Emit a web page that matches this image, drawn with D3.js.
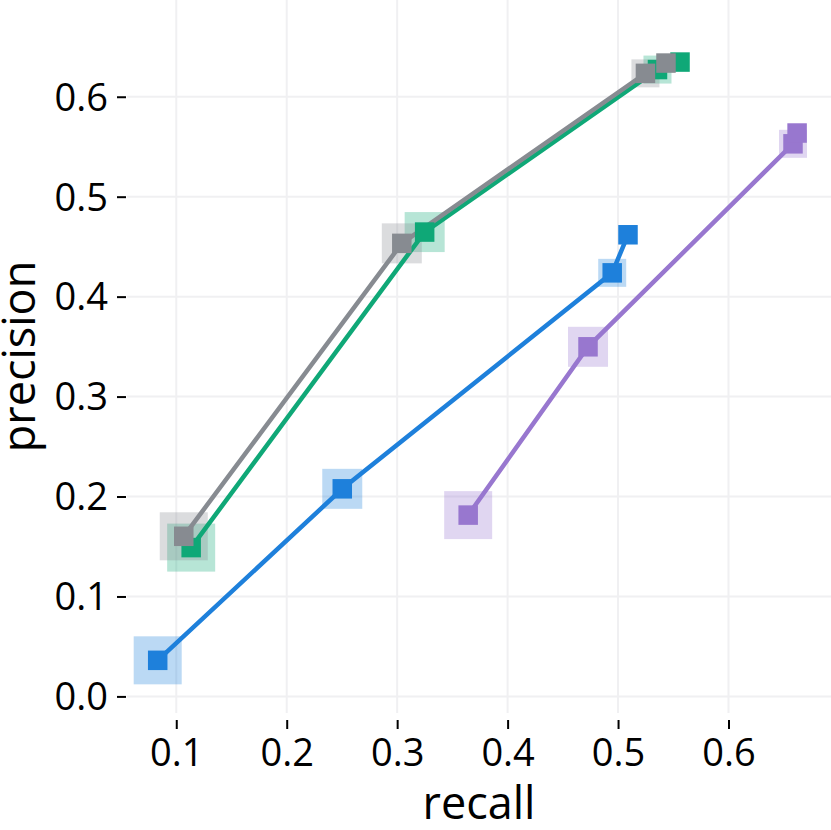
<!DOCTYPE html>
<html>
<head>
<meta charset="utf-8">
<script src="https://cdn.jsdelivr.net/npm/d3@7"></script>
<style>
  html, body { margin: 0; padding: 0; background: #fff; }
  svg text { font-family: "Open Sans", "Noto Sans", sans-serif; fill: #000; }
</style>
</head>
<body>
<div id="chart"></div>
<script>
// Data
const seriesNames = ["blue", "purple", "green", "gray"];
const seriesColors = ["#1e80db", "#9877cf", "#0fa877", "#878b91"];
const recall = [
  [0.0832, 0.2503, 0.4947, 0.5090],
  [0.3643, 0.4728, 0.6584, 0.6621],
  [0.1135, 0.3249, 0.5357, 0.5561],
  [0.1068, 0.3042, 0.5248, 0.5434]
];
const precision = [
  [0.0361, 0.2077, 0.4238, 0.4619],
  [0.1814, 0.3498, 0.5529, 0.5637],
  [0.1489, 0.4646, 0.6272, 0.6347],
  [0.1602, 0.4533, 0.6234, 0.6337]
];
// halo size per step (last point has none)
const haloSize = [48, 40, 28, 0];
const xTicks = [0.1, 0.2, 0.3, 0.4, 0.5, 0.6];
const yTicks = [0.0, 0.1, 0.2, 0.3, 0.4, 0.5, 0.6];

const W = 831, H = 830;
const margin = { top: 0, right: 0, bottom: 117, left: 127 };
const innerW = W - margin.left - margin.right;
const innerH = H - margin.top - margin.bottom;

const svg = d3.select("#chart").append("svg")
    .attr("width", W)
    .attr("height", H);

const g = svg.append("g")
    .attr("transform", `translate(${margin.left},${margin.top})`);

const x = d3.scaleLinear().domain([0.0554, 0.6928]).range([0, innerW]);
const y = d3.scaleLinear().domain([-0.0166, 0.6968]).range([innerH, 0]);

// Gridlines
g.append("g").selectAll("line")
    .data(xTicks)
    .join("line")
    .attr("x1", d => x(d)).attr("x2", d => x(d))
    .attr("y1", 0).attr("y2", innerH)
    .attr("stroke", "#f0f0f2").attr("stroke-width", 2);

g.append("g").selectAll("line")
    .data(yTicks)
    .join("line")
    .attr("x1", 0).attr("x2", innerW)
    .attr("y1", d => y(d)).attr("y2", d => y(d))
    .attr("stroke", "#f0f0f2").attr("stroke-width", 2);

// Axes
const xAxis = g.append("g")
    .attr("transform", `translate(0,${innerH + 7})`)
    .call(d3.axisBottom(x).tickValues(xTicks).tickFormat(d3.format(".1f")).tickSize(9).tickPadding(10));

const yAxis = g.append("g")
    .attr("transform", "translate(-1,0)")
    .call(d3.axisLeft(y).tickValues(yTicks).tickFormat(d3.format(".1f")).tickSize(9).tickPadding(9));

[xAxis, yAxis].forEach(a => {
    a.select(".domain").remove();
    a.selectAll(".tick line").attr("stroke", "#000").attr("stroke-width", 2);
    a.selectAll(".tick text").style("font-size", "38px");
});
yAxis.selectAll(".tick text").attr("dy", "0.35em");

// Axis titles
svg.append("text")
    .attr("x", margin.left + innerW / 2)
    .attr("y", 819)
    .attr("text-anchor", "middle")
    .style("font-size", "45px")
    .text("recall");

svg.append("text")
    .attr("transform", `translate(35,${margin.top + innerH / 2}) rotate(-90)`)
    .attr("text-anchor", "middle")
    .style("font-size", "45px")
    .text("precision");

const series = seriesNames.map((name, i) => ({
    name,
    color: seriesColors[i],
    points: recall[i].map((r, j) => ({ r, p: precision[i][j], halo: haloSize[j] }))
}));

// Halos
g.append("g").selectAll("g")
    .data(series)
    .join("g")
    .attr("fill", d => d.color)
    .attr("fill-opacity", 0.3)
    .selectAll("rect")
    .data(d => d.points.filter(p => p.halo > 0))
    .join("rect")
    .attr("x", d => x(d.r) - d.halo / 2)
    .attr("y", d => y(d.p) - d.halo / 2)
    .attr("width", d => d.halo)
    .attr("height", d => d.halo);

// Lines
const line = d3.line().x(d => x(d.r)).y(d => y(d.p));
g.append("g").selectAll("path")
    .data(series)
    .join("path")
    .attr("fill", "none")
    .attr("stroke", d => d.color)
    .attr("stroke-width", 4.5)
    .attr("d", d => line(d.points));

// Points
const s = 19.5;
g.append("g").selectAll("g")
    .data(series)
    .join("g")
    .attr("fill", d => d.color)
    .selectAll("rect")
    .data(d => d.points)
    .join("rect")
    .attr("x", d => x(d.r) - s / 2)
    .attr("y", d => y(d.p) - s / 2)
    .attr("width", s)
    .attr("height", s);
</script>
</body>
</html>
